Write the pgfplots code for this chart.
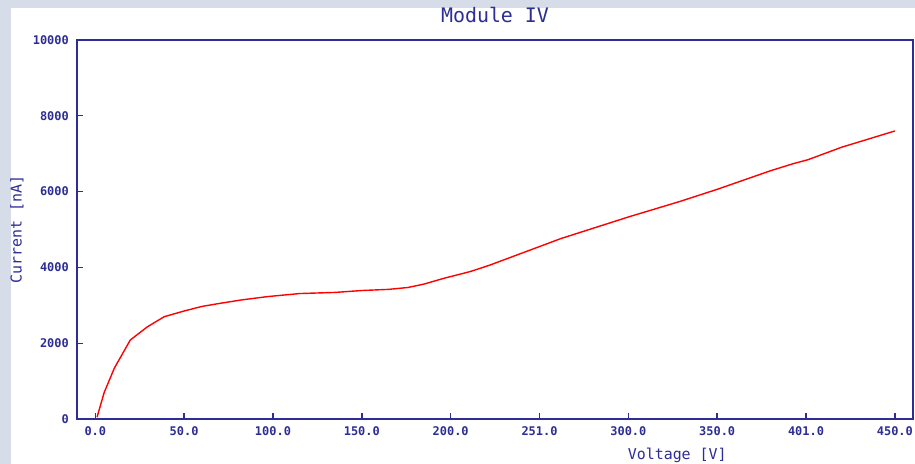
\documentclass[border=0pt]{standalone}
\usepackage{pgfplots}
\pgfplotsset{compat=1.18}
\usepackage{fontspec}
\setmainfont{DejaVu Sans}
\newfontfamily\monofont{DejaVu Sans Mono}
\definecolor{navy}{RGB}{45,45,150}
\definecolor{bgc}{RGB}{214,220,232}
\begin{document}
\begin{tikzpicture}
\fill[bgc] (-77bp,-45bp) rectangle (838bp,419bp);
\fill[white] (-66bp,-45bp) rectangle (838bp,411bp);
\begin{axis}[
  scale only axis, width=836bp, height=379bp,
  xmin=-10.3, xmax=460.2, ymin=0, ymax=10000,
  scaled y ticks=false, scaled x ticks=false,
  axis line style={navy, line width=1.4bp},
  tick style={navy, line width=1.4bp},
  tick align=inside, major tick length=6bp,
  tick pos=left,
  xtick={0,50,100,150,200,250,300,350,400,450},
  xticklabels={0.0,50.0,100.0,150.0,200.0,251.0,300.0,350.0,401.0,450.0},
  ytick={0,2000,4000,6000,8000,10000},
  yticklabels={0,2000,4000,6000,8000,10000},
  ticklabel style={font=\monofont\bfseries\fontsize{12}{12}\selectfont, text=navy, inner sep=0pt},
  xticklabel style={anchor=center, yshift=-12bp},
  yticklabel style={anchor=east, xshift=-8bp},
  title={Module IV},
  title style={font=\monofont\fontsize{20}{20}\selectfont, text=navy, at={(0.5,1)}, anchor=center, yshift=19bp, inner sep=0pt},
  xlabel={Voltage [V]},
  xlabel style={font=\monofont\fontsize{15}{15}\selectfont, text=navy, at={(0.718,0)}, anchor=center, yshift=-36bp, inner sep=0pt},
  ylabel={Current [nA]},
  ylabel style={font=\monofont\fontsize{15}{15}\selectfont, text=navy, at={(0,0.5)}, anchor=center, yshift=60bp, inner sep=0pt},
]
\addplot[red, line width=1.4bp] coordinates {
(1,50) (5,700) (10.7,1340) (19.7,2085) (29.4,2435) (38.8,2700) (50,2850)
(60,2970) (70,3050) (82,3140) (97,3230) (115,3310) (135,3340) (150,3390)
(165,3420) (176,3470) (185,3560) (196,3710) (211,3890) (222,4060)
(250,4550) (262,4760) (300,5330) (329,5740) (350,6060) (380,6550)
(393,6740) (401,6840) (420,7170) (450,7600)
};
\end{axis}
\pgfresetboundingbox
\path[use as bounding box] (-77bp,-45bp) rectangle (838bp,419bp);
\end{tikzpicture}
\end{document}
